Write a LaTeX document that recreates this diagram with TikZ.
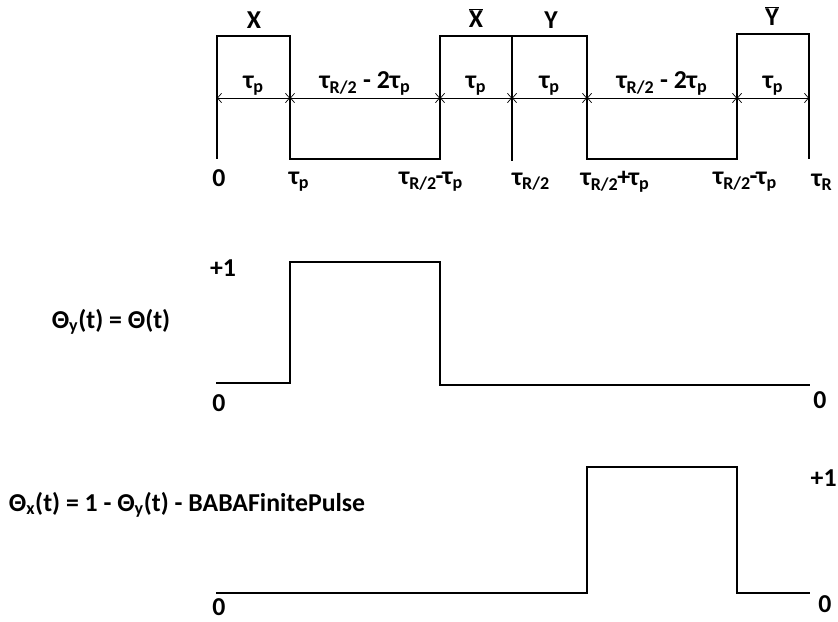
\documentclass[tikz,border=0pt]{standalone}
\usepackage{fontspec}
\setmainfont{Carlito}
\usetikzlibrary{arrows.meta}
\newcommand{\tp}{τ\textsubscript{p}}
\newcommand{\tR}[1]{τ\textsubscript{#1}}

\begin{document}
\begin{tikzpicture}[x=0.03cm,y=-0.03cm,
    every node/.style={font=\bfseries\fontsize{22}{24}\selectfont,inner sep=1pt},
    wave/.style={line width=2.4pt,line join=miter,line cap=rect},
    span/.style={{Straight Barb[length=3.5pt,width=8pt]}-{Straight Barb[length=3.5pt,width=8pt]},line width=0.6pt}]
  \useasboundingbox (0,0) rectangle (838,622);
  % time marks on the span line
  \foreach \n/\x in {m0/217,m1/290,m2/440,m3/512,m4/587,m5/737,m6/809}
    \coordinate (\n) at (\x,98);

  % pulse sequence
  \draw[wave] (217,158) -- (217,36) -- (290,36) -- (290,159) -- (440,159)
    -- (440,36) -- (587,36) -- (587,159) -- (737,159) -- (737,34) -- (809,34) -- (809,158);
  \draw[wave] (512,36) -- (512,160);
  \node (X)  at (254,20) {X};
  \node (Xb) at (476,18) {$\overline{\mbox{X}}$};
  \node (Y)  at (551,20) {Y};
  \node (Yb) at (772,16) {$\overline{\mbox{Y}}$};

  \draw[span] (m0) -- node[above=1pt] (s1) {\tp} (m1);
  \draw[span] (m1) -- node[above=1pt] (s2) {\tR{R/2} - 2\tp} (m2);
  \draw[span] (m2) -- node[above=1pt] (s3) {\tp} (m3);
  \draw[span] (m3) -- node[above=1pt] (s4) {\tp} (m4);
  \draw[span] (m4) -- node[above=1pt] (s5) {\tR{R/2} - 2\tp} (m5);
  \draw[span] (m5) -- node[above=1pt] (s6) {\tp} (m6);

  \node (l0) at (219,178) {0};
  \node (l1) at (299,182) {\tp};
  \node (l2) at (431,182) {\tR{R/2}\kern-1pt-\kern-1pt\tp};
  \node (l3) at (531,182) {\tR{R/2}};
  \node (l4) at (615,182) {\tR{R/2}\kern-1pt+\kern-1pt\tp};
  \node (l5) at (745,182) {\tR{R/2}\kern-1pt-\kern-1pt\tp};
  \node (l6) at (822,182) {\tR{R}};

  % theta_y
  \node (ty) at (111,322) {Θ\textsubscript{y}(t) = Θ(t)};
  \draw[wave] (217,383) -- (290,383) -- (290,262) -- (440,262) -- (440,385) -- (809,385);
  \node (py) at (223,268) {+1};
  \node (zy) at (219,403) {0};
  \node (zy2) at (820,400) {0};

  % theta_x
  \node (tx) at (187,505) {Θ\textsubscript{x}(t) = 1 - Θ\textsubscript{y}(t) - BABAFinitePulse};
  \draw[wave] (217,593) -- (587,593) -- (587,467) -- (737,467) -- (737,593) -- (809,593);
  \node[anchor=east] (px) at (838,478) {+1};
  \node (zx) at (219,607) {0};
  \node (zx2) at (825,604) {0};
\end{tikzpicture}
\end{document}
